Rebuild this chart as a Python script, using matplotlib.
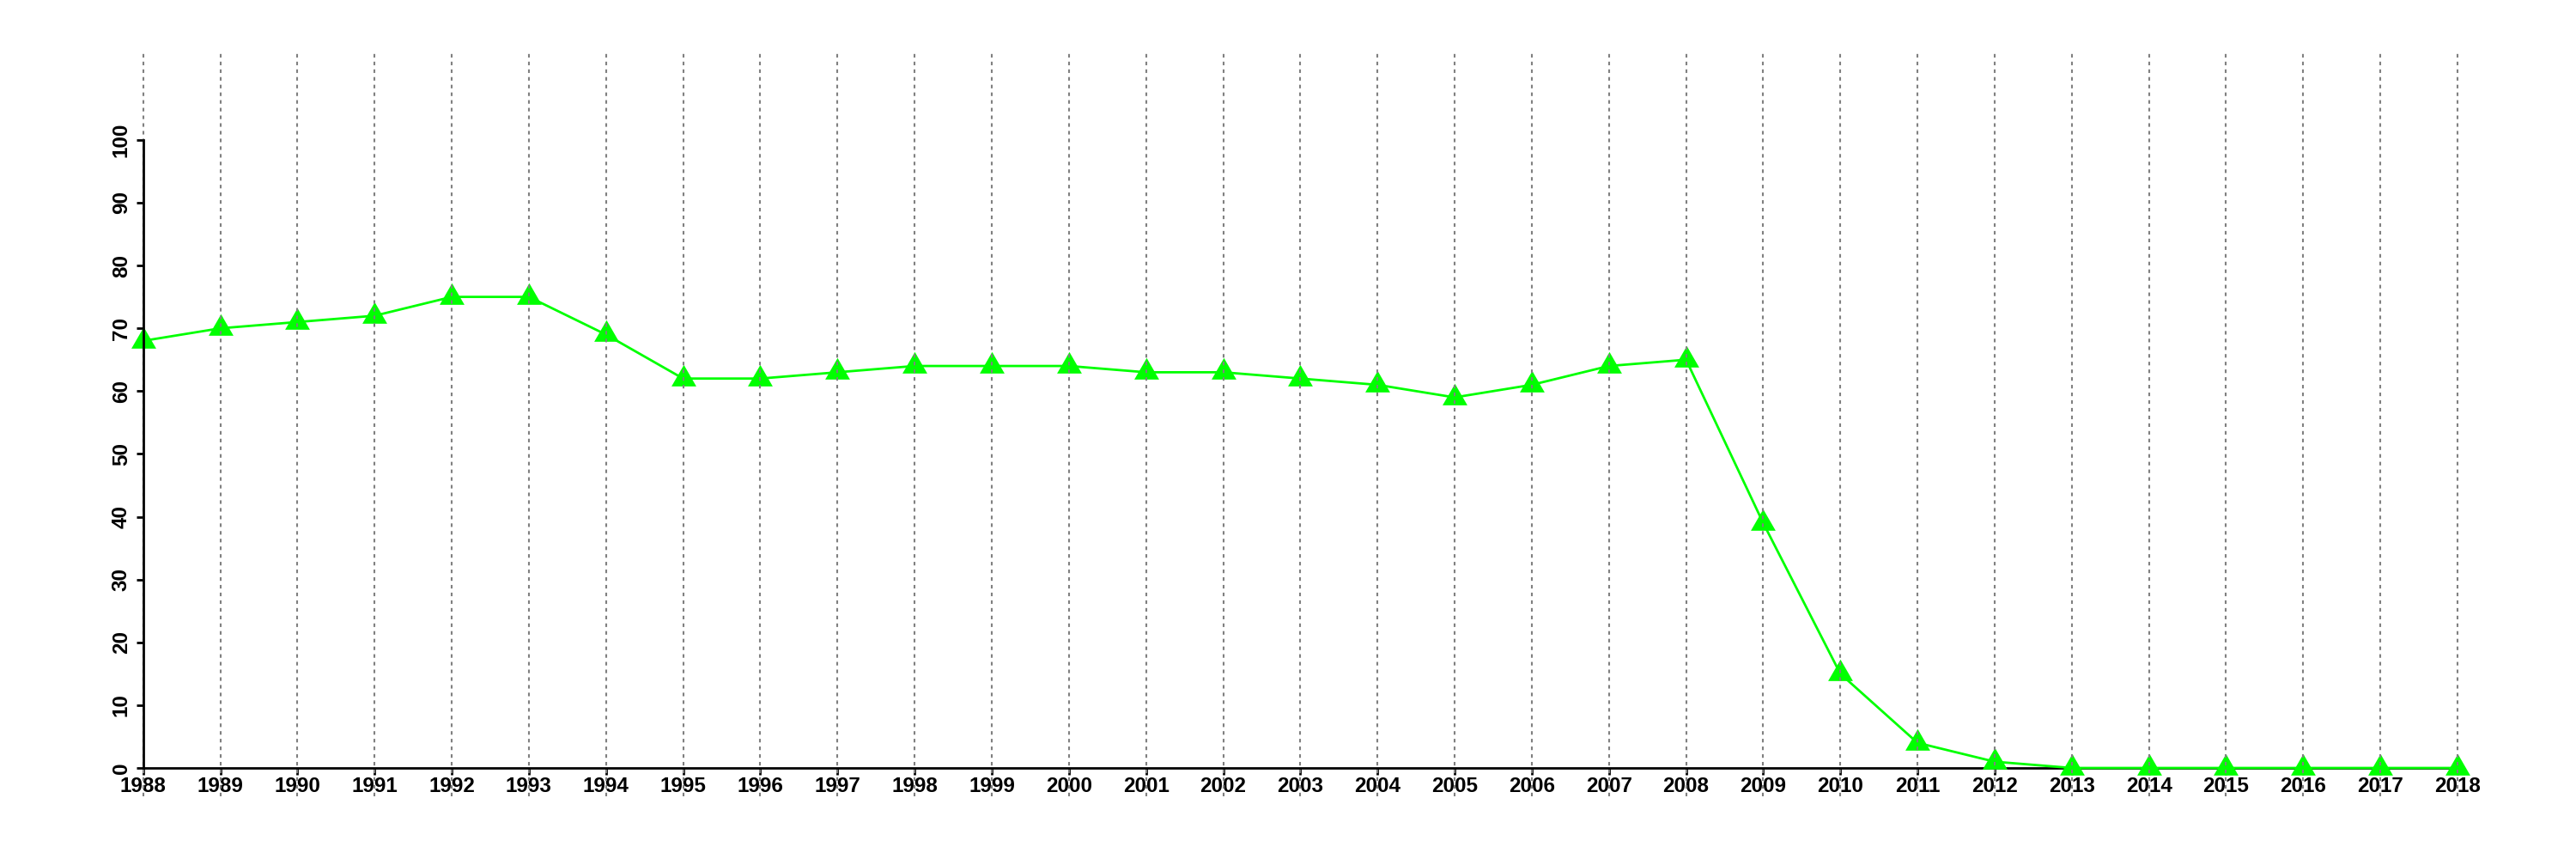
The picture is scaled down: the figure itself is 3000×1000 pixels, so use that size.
import matplotlib
matplotlib.use("Agg")
import matplotlib.pyplot as plt
import numpy as np

years = list(range(1988, 2019))
values = [68, 70, 71, 72, 75, 75, 69, 62, 62, 63, 64, 64, 64, 63, 63, 62, 61, 59,
          61, 64, 65, 39, 15, 4, 1, 0, 0, 0, 0, 0, 0]
yticks = list(range(0, 101, 10))

plt.rcParams['font.family'] = ['Liberation Sans', 'DejaVu Sans']

fig = plt.figure(figsize=(30, 10), dpi=100)
ax = fig.add_axes([166.7/3000, 1 - 927/1000, (2862 - 166.7)/3000, (927 - 59)/1000])
ax.set_xlim(1988, 2018)
ax.set_ylim(-4.51, 114.2)

for y in years:
    ax.axvline(y, color='#808080', linestyle=(0, (2.0, 2.3)), linewidth=1.5,
               zorder=4, clip_on=False)

tri = [(-1, -0.5774), (1, -0.5774), (0, 1.1547)]
ax.plot(years, values, color='#00ff00', linewidth=2.0, marker=tri, markersize=24,
        markeredgewidth=0, markerfacecolor='#00ff00', clip_on=False, zorder=3)

for s in ['top', 'right']:
    ax.spines[s].set_visible(False)
ax.spines['left'].set_bounds(0, 100)
ax.spines['bottom'].set_bounds(1988, 2018)
ax.spines['bottom'].set_position(('data', 0))
ax.spines['left'].set_linewidth(2.0)
ax.spines['bottom'].set_linewidth(2.0)
ax.spines['bottom'].set_zorder(2)
ax.spines['left'].set_zorder(5)

ax.set_xticks(years)
ax.set_xticklabels([str(y) for y in years], fontsize=17.5, fontweight='bold')
ax.set_yticks(yticks)
ax.set_yticklabels([str(v) for v in yticks], fontsize=17.5, fontweight='bold',
                   rotation=90, va='center')
ax.tick_params(axis='x', direction='out', length=6, width=2, pad=1)
ax.tick_params(axis='y', direction='out', length=6, width=2, pad=4)

fig.savefig('out.png', dpi=100, facecolor='white')
